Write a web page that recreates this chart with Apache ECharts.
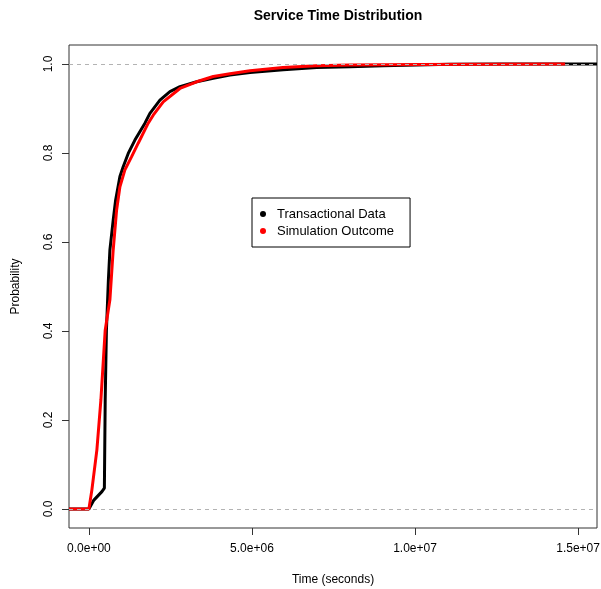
<!DOCTYPE html>
<html lang="en">
<head>
    <meta charset="UTF-8">
    <title>Service Time Distribution</title>
    <script type="text/javascript" src="https://cdn.jsdelivr.net/npm/echarts@6/dist/echarts.min.js"></script>
</head>
<body style="margin:0;">
  <div id="main" style="width:601px;height:589px;"></div>
</body>
<script>
    // ECDF: [time in seconds, probability]
    var transactional = [
        [-610000, 0], [0, 0], [153000, 0.02], [399000, 0.039], [475000, 0.047],
        [500000, 0.245], [537000, 0.4], [574000, 0.47], [598000, 0.515],
        [644000, 0.582], [745000, 0.649], [819000, 0.694], [951000, 0.747],
        [1052000, 0.769], [1206000, 0.799], [1411000, 0.829], [1718000, 0.867],
        [1871000, 0.889], [2178000, 0.919], [2485000, 0.938], [2791000, 0.949],
        [3304000, 0.96], [3813000, 0.968], [4325000, 0.975], [4939000, 0.981],
        [5960000, 0.987], [6985000, 0.992], [8006000, 0.994], [9020000, 0.996],
        [10050000, 0.998], [11070000, 0.9995], [12600000, 1], [15580000, 1]
    ];
    var simulation = [
        [-610000, 0], [0, 0], [92000, 0.043], [245000, 0.133], [368000, 0.245],
        [500000, 0.402], [644000, 0.47], [745000, 0.582], [850000, 0.672],
        [951000, 0.724], [1104000, 0.762], [1310000, 0.792], [1512000, 0.822],
        [1819000, 0.867], [1972000, 0.885], [2279000, 0.915], [2791000, 0.945],
        [3304000, 0.96], [3813000, 0.972], [4325000, 0.978], [4939000, 0.985],
        [5950000, 0.992], [6980000, 0.996], [8000000, 0.998], [10150000, 0.999],
        [14600000, 1]
    ];
    var xTicks = [0, 5000000, 10000000, 15000000];
    var yTicks = [0, 0.2, 0.4, 0.6, 0.8, 1.0];
    var refLines = [0, 1];

    var font = '"Liberation Sans", Arial, Helvetica, sans-serif';
    var myChart = echarts.init(document.getElementById('main'));

    var option = {
        animation: false,
        title: {
            text: 'Service Time Distribution',
            left: 333,
            top: 4,
            textAlign: 'center',
            textStyle: {fontFamily: font, fontSize: 14, fontWeight: 'bold', color: '#000'}
        },
        legend: {
            orient: 'vertical',
            left: 252,
            top: 198,
            icon: 'circle',
            itemWidth: 6,
            itemHeight: 6,
            itemGap: 1,
            padding: [8, 16, 8, 8],
            borderColor: '#000',
            borderWidth: 1,
            textStyle: {fontFamily: font, fontSize: 13, lineHeight: 16, color: '#000', padding: [0, 0, 0, 6]},
            data: ['Transactional Data', 'Simulation Outcome']
        },
        grid: {
            left: 69, right: 4, top: 45, bottom: 61,
            outerBoundsMode: 'none',
            show: true,
            borderColor: '#333',
            borderWidth: 1
        },
        xAxis: {
            type: 'value',
            min: -610000,
            max: 15580000,
            name: 'Time (seconds)',
            nameLocation: 'middle',
            nameGap: 46,
            nameTextStyle: {fontFamily: font, fontSize: 12, color: '#000'},
            axisLine: {show: false, onZero: false},
            splitLine: {show: false},
            axisTick: {show: true, length: 7, customValues: xTicks, lineStyle: {color: '#333'}},
            axisLabel: {
                customValues: xTicks,
                margin: 15,
                fontFamily: font, fontSize: 12, color: '#000',
                formatter: function (v) {
                    var s = v.toExponential(1);
                    return s.replace(/e([+-])(\d)$/, 'e$10$2');
                }
            }
        },
        yAxis: {
            type: 'value',
            min: -0.0427,
            max: 1.0427,
            name: 'Probability',
            nameLocation: 'middle',
            nameRotate: 90,
            nameGap: 47,
            nameTextStyle: {fontFamily: font, fontSize: 12, color: '#000'},
            axisLine: {show: false, onZero: false},
            splitLine: {show: false},
            axisTick: {show: true, length: 7, customValues: yTicks, lineStyle: {color: '#333'}},
            axisLabel: {
                customValues: yTicks,
                rotate: 90,
                margin: 14,
                fontFamily: font, fontSize: 12, color: '#000',
                formatter: function (v) { return v.toFixed(1); }
            }
        },
        series: [{
            name: 'Transactional Data',
            type: 'line',
            data: transactional,
            showSymbol: false,
            color: '#000',
            lineStyle: {color: '#000', width: 3},
            clip: true,
            z: 2
        }, {
            name: 'Simulation Outcome',
            type: 'line',
            data: simulation,
            showSymbol: false,
            color: '#ff0000',
            lineStyle: {color: '#ff0000', width: 3},
            clip: true,
            z: 3
        }, {
            name: 'ref',
            type: 'line',
            data: [],
            z: 4,
            markLine: {
                silent: true,
                symbol: ['none', 'none'],
                label: {show: false},
                lineStyle: {color: '#b3b3b3', width: 1, type: [4, 4]},
                data: refLines.map(function (v) { return {yAxis: v}; })
            }
        }]
    };

    myChart.setOption(option);
</script>
</html>
